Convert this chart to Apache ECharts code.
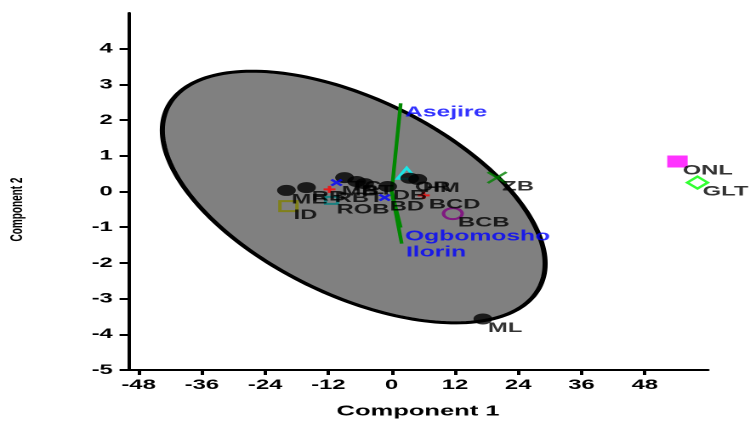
<!DOCTYPE html>
<html>
<head>
<meta charset="utf-8">
<script src="https://cdn.jsdelivr.net/npm/echarts@6/dist/echarts.min.js"></script>
<style>
  html, body { margin: 0; padding: 0; background: #fff; overflow: hidden; }
  #wrap { width: 750px; height: 424px; overflow: hidden; }
  #chart { width: 441px; height: 424px; transform: scaleX(1.7007); transform-origin: 0 0; }
</style>
</head>
<body>
<div id="wrap"><div id="chart"></div></div>
<script>
// ---- data ----
const xTicks = [-48, -36, -24, -12, 0, 12, 24, 36, 48];
const yTicks = [-5, -4, -3, -2, -1, 0, 1, 2, 3, 4];

const pointNames = ['', 'ME', 'RB', 'TC', 'BT', '', 'DB', 'OR', 'HM', 'RBT', 'BCD', 'MB', 'BD', 'ROB', 'ID', 'BCB', 'ZB', 'ML', 'ONL', 'GLT'];
const pointX = [2.85, -19.96, -16.16, -8.94, -6.65, -5.13, -0.76, 3.42, 4.94, -11.79, 6.08, -10.46, -1.33, -11.41, -19.58, 11.6, 20.0, 17.3, 54.2, 58.0];
const pointY = [0.51, 0.03, 0.11, 0.39, 0.28, 0.22, 0.14, 0.37, 0.34, 0.06, -0.11, 0.25, -0.17, -0.25, -0.41, -0.62, 0.39, -3.57, 0.84, 0.25];

const vectorNames = ['Asejire', 'Ogbomosho', 'Ilorin'];
const vectorX = [1.71, 1.71, 1.9];
const vectorY = [2.47, -1.01, -1.46];

const ellipseCenter = [-7.2, -0.155];
const ellipseSD = [36.3, 3.525];
const ellipseRho = -0.53;

// ---- styles (per point, by index) ----
const CROSS = 'path://M0,0L10,10M10,0L0,10';
const PLUS = 'path://M5,0L5,10M0,5L10,5';
const pointStyles = [
  ['triangle', 11, null, '#00ffff'],
  ['circle', 11, '#000', null], ['circle', 11, '#000', null], ['circle', 11, '#000', null],
  ['circle', 11, '#000', null], ['circle', 11, '#000', null], ['circle', 11, '#000', null],
  ['circle', 11, '#000', null], ['circle', 11, '#000', null],
  [PLUS, 7, null, '#ff0000'], [PLUS, 7, null, '#ff0000'],
  [CROSS, 6, null, '#0000ff'], [CROSS, 6, null, '#0000ff'],
  ['rect', 7, null, '#008080'],
  ['rect', 10, null, '#808000'],
  ['circle', 11, null, '#800080'],
  [CROSS, 11, null, '#008000'],
  ['circle', 11, '#000', null],
  ['rect', 12, '#ff00ff', null],
  ['diamond', 12, null, '#00ff00']
];

const FONT = 'Arial, "Liberation Sans", sans-serif';

const pointData = pointNames.map((n, i) => {
  const s = pointStyles[i];
  return {
    value: [pointX[i], pointY[i]],
    name: n,
    symbol: s[0],
    symbolSize: s[1],
    itemStyle: s[2] ? { color: s[2], borderWidth: 0 } : { color: 'none', borderColor: s[3], borderWidth: 2 },
    label: {
      show: n !== '', formatter: n, position: 'inside', align: 'left', verticalAlign: 'middle',
      offset: [3, 9], color: '#000', fontWeight: 'bold', fontSize: 14, fontFamily: FONT
    }
  };
});

const vectorSeries = vectorNames.map((n, i) => ({
  type: 'line', name: n, z: 3, silent: true,
  data: [[0, 0], [vectorX[i], vectorY[i]]],
  symbol: 'none',
  lineStyle: { color: '#008800', width: 2.2 }
}));

const vectorLabels = {
  type: 'scatter', z: 6, silent: true,
  data: vectorNames.map((n, i) => ({
    value: [vectorX[i], vectorY[i]], name: n,
    label: {
      show: true, formatter: n, position: 'inside', align: 'left', verticalAlign: 'middle',
      offset: [2.5, 9], color: '#0000ff', fontWeight: 'bold', fontSize: 14.5, fontFamily: FONT
    }
  })),
  symbolSize: 1,
  itemStyle: { color: 'rgba(0,0,0,0)' }
};

const ellipseSeries = {
  type: 'custom', z: 1, silent: true,
  data: [ellipseCenter],
  renderItem: function (params, api) {
    const cx = api.value(0), cy = api.value(1);
    const sx = ellipseSD[0], sy = ellipseSD[1], r = ellipseRho;
    const pts = [];
    for (let k = 0; k <= 200; k++) {
      const t = k / 200 * Math.PI * 2;
      const x = cx + sx * Math.cos(t);
      const y = cy + sy * (r * Math.cos(t) + Math.sqrt(1 - r * r) * Math.sin(t));
      pts.push(api.coord([x, y]));
    }
    return { type: 'polygon', shape: { points: pts }, style: { fill: '#808080', stroke: '#000', lineWidth: 3 } };
  }
};

const chart = echarts.init(document.getElementById('chart'), null, { renderer: 'canvas', devicePixelRatio: 2 });
chart.setOption({
  animation: false,
  backgroundColor: '#fff',
  grid: { left: 75.3, right: 24.7, top: 13, bottom: 54, containLabel: false, outerBoundsMode: 'none' },
  xAxis: {
    type: 'value', min: -50, max: 60,
    axisLine: { onZero: false, lineStyle: { color: '#000', width: 2 } },
    axisTick: { show: true, customValues: xTicks, length: 5, lineStyle: { color: '#000', width: 2 } },
    axisLabel: { customValues: xTicks, color: '#000', fontWeight: 'bold', fontSize: 14, fontFamily: FONT, margin: 8 },
    splitLine: { show: false },
    name: 'Component 1', nameLocation: 'middle', nameGap: 34,
    nameTextStyle: { color: '#000', fontWeight: 'bold', fontSize: 15, fontFamily: FONT }
  },
  yAxis: {
    type: 'value', min: -5, max: 5,
    axisLine: { onZero: false, lineStyle: { color: '#000', width: 2 } },
    axisTick: { show: true, customValues: yTicks, length: 5, lineStyle: { color: '#000', width: 2 } },
    axisLabel: { customValues: yTicks, color: '#000', fontWeight: 'bold', fontSize: 14, fontFamily: FONT, margin: 9 },
    splitLine: { show: false },
    name: 'Component 2', nameLocation: 'middle', nameGap: 60,
    nameTextStyle: { color: '#000', fontWeight: 'bold', fontSize: 10, fontFamily: FONT, padding: [0, 36, 0, 0] }
  },
  series: [ellipseSeries].concat(vectorSeries).concat([
    { type: 'scatter', z: 5, silent: true, data: pointData },
    vectorLabels
  ])
});
</script>
</body>
</html>
